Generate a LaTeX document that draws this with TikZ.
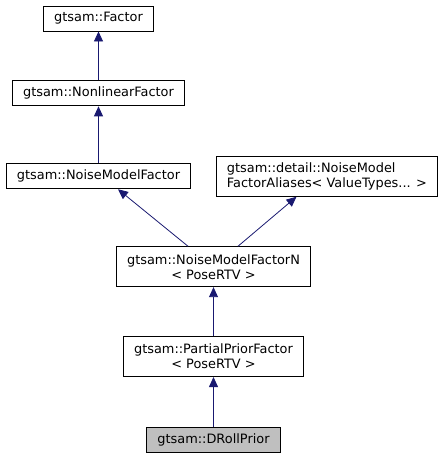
\documentclass[tikz,border=0pt]{standalone}
\usepackage{fontspec}
\setmainfont{DejaVu Sans}
\usetikzlibrary{arrows.meta,positioning}
\definecolor{edgeblue}{RGB}{25,25,112}
\definecolor{leafgray}{RGB}{191,191,191}
\tikzstyle{cls} = [
  rectangle, draw, line width=0.9pt, inner xsep=10.5pt, inner ysep=4pt,
  minimum height=25pt, font=\fontsize{12.9}{15}\selectfont
]
\tikzstyle{cls2} = [cls, align=center, minimum height=40pt]
\tikzstyle{inherit} = [
  draw=edgeblue, line width=0.8pt,
  -{Triangle[length=10pt,width=9pt,fill=edgeblue]}
]

\begin{document}
\begin{tikzpicture}
    \useasboundingbox (0pt,0pt) rectangle (445pt,455pt);

    \node[cls] (fac) at (98.5pt,436.5pt) {gtsam::Factor};
    \node[cls, below=49pt of fac] (nlf) {gtsam::NonlinearFactor};
    \node[cls, below=57pt of nlf] (nmf) {gtsam::NoiseModelFactor};
    \node[cls2, align=left, right=25pt of nmf] (alias)
      {gtsam::detail::NoiseModel\\FactorAliases< ValueTypes... >};

    \node[cls2, below=57pt of nmf, xshift=115pt] (nmfn)
      {gtsam::NoiseModelFactorN\\< PoseRTV >};
    \node[cls2, below=49pt of nmfn] (ppf)
      {gtsam::PartialPriorFactor\\< PoseRTV >};
    \node[cls, fill=leafgray, below=50pt of ppf] (drp) {gtsam::DRollPrior};

    \draw[inherit] (nlf.north) -- (fac.south);
    \draw[inherit] (nmf.north) -- (nlf.south);
    \draw[inherit] ([xshift=-25.5pt] nmfn.north) -- ([xshift=19.5pt] nmf.south);
    \draw[inherit] ([xshift=24.5pt] nmfn.north) -- ([xshift=-30.5pt] alias.south);
    \draw[inherit] (ppf.north) -- (nmfn.south);
    \draw[inherit] (drp.north) -- (ppf.south);
\end{tikzpicture}
\end{document}
